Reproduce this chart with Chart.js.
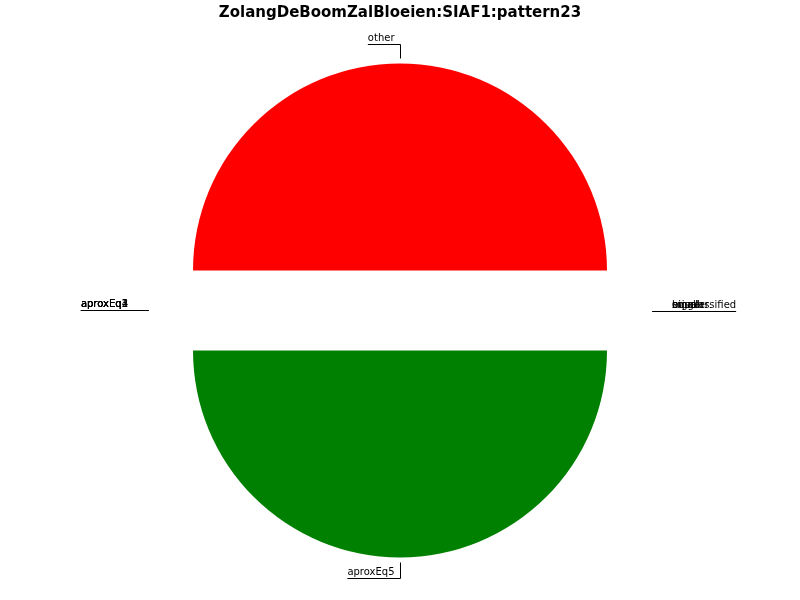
<!DOCTYPE html>
<html lang="en">
  <head>
    <meta charset="UTF-8" />
    <title>ZolangDeBoomZalBloeien:SIAF1:pattern23</title>
    <style>
      body { margin: 0; background: #fff; }
    </style>
  </head>
  <body>
    <canvas id="pieChartCanvas" width="800" height="600"></canvas>

    <script src="https://cdn.jsdelivr.net/npm/chart.js@4.4.1/dist/chart.umd.min.js"></script>
    <script>
        // slices in drawing order (clockwise from 9 o'clock)
        const categories = ['aproxEq1', 'aproxEq2', 'aproxEq3', 'aproxEq4', 'other',
                            'bigger', 'smaller', 'equal', 'misclassified', 'aproxEq5'];
        const sliceValues = [0, 0, 0, 0, 50, 0, 0, 0, 0, 50];
        const sliceColors = ['#1f77b4', '#ff7f0e', '#2ca02c', '#d62728', '#ff0000',
                             '#9467bd', '#8c564b', '#e377c2', '#7f7f7f', '#008000'];
        const chartTitle = 'ZolangDeBoomZalBloeien:SIAF1:pattern23';

        const EXPLODE = 40;

        // chart.js offset shrinks half-circles, so push each arc out by hand
        const explodeArcs = {
            id: 'explodeArcs',
            beforeDatasetDraw(chart, args) {
                let ctx = chart.ctx;
                args.meta.data.forEach(arc => {
                    let p = arc.getProps(['startAngle', 'endAngle'], true);
                    let mid = (p.startAngle + p.endAngle) / 2;
                    ctx.save();
                    ctx.translate(Math.cos(mid) * EXPLODE, Math.sin(mid) * EXPLODE);
                    arc.draw(ctx, chart.chartArea);
                    ctx.restore();
                });
                return false;
            }
        };

        // labels with the little elbow lines, like the matplotlib annotate ones
        const pieLabels = {
            id: 'pieLabels',
            afterDraw(chart) {
                let ctx = chart.ctx;
                let meta = chart.getDatasetMeta(0);
                ctx.save();
                ctx.font = '10px "DejaVu Sans"';
                ctx.fillStyle = '#000';
                ctx.strokeStyle = '#000';
                ctx.lineWidth = 1;
                ctx.textBaseline = 'bottom';
                meta.data.forEach((arc, i) => {
                    let p = arc.getProps(['x', 'y', 'startAngle', 'endAngle', 'outerRadius'], true);
                    let mid = (p.startAngle + p.endAngle) / 2;
                    let ux = Math.cos(mid), uy = Math.sin(mid);
                    let px = Math.round(p.x + ux * (p.outerRadius + EXPLODE + 5)) + 0.5;
                    let py = p.y + uy * (p.outerRadius + EXPLODE + 5);
                    let ly = Math.round(p.y + uy * 267) + 0.5;
                    let txt = categories[i];
                    let w = ctx.measureText(txt).width;
                    let x0, x1, tx;
                    if (ux < -0.5) {
                        tx = p.x - 272; ctx.textAlign = 'right';
                        x0 = tx - w; x1 = px;
                    } else if (ux > 0.5) {
                        tx = p.x + 272; ctx.textAlign = 'left';
                        x0 = px; x1 = tx + w;
                    } else {
                        tx = px - 6; ctx.textAlign = 'right';
                        x0 = tx - w; x1 = px;
                    }
                    ctx.fillText(txt, tx, ly - 1);
                    ctx.beginPath();
                    ctx.moveTo(x0, ly);
                    ctx.lineTo(x1, ly);
                    if (Math.abs(uy) > 0.5) ctx.lineTo(px, py);
                    ctx.stroke();
                });
                ctx.restore();
            }
        };

        let ctx = document.getElementById('pieChartCanvas').getContext('2d');
        window.pieChart = new Chart(ctx, {
            type: 'pie',
            data: {
                labels: categories,
                datasets: [{
                    data: sliceValues,
                    backgroundColor: sliceColors,
                    borderWidth: 0,
                    hoverOffset: 0,
                    radius: 207
                }]
            },
            options: {
                responsive: false,
                animation: false,
                rotation: -90,
                layout: { padding: { top: 0, bottom: 1 } },
                plugins: {
                    legend: { display: false },
                    tooltip: { enabled: false },
                    title: {
                        display: true,
                        text: chartTitle,
                        color: '#000',
                        font: { family: '"DejaVu Sans"', size: 15, weight: 'bold', lineHeight: 1.2 },
                        padding: { top: 4, bottom: 0 }
                    }
                }
            },
            plugins: [explodeArcs, pieLabels]
        });
    </script>
  </body>
</html>
